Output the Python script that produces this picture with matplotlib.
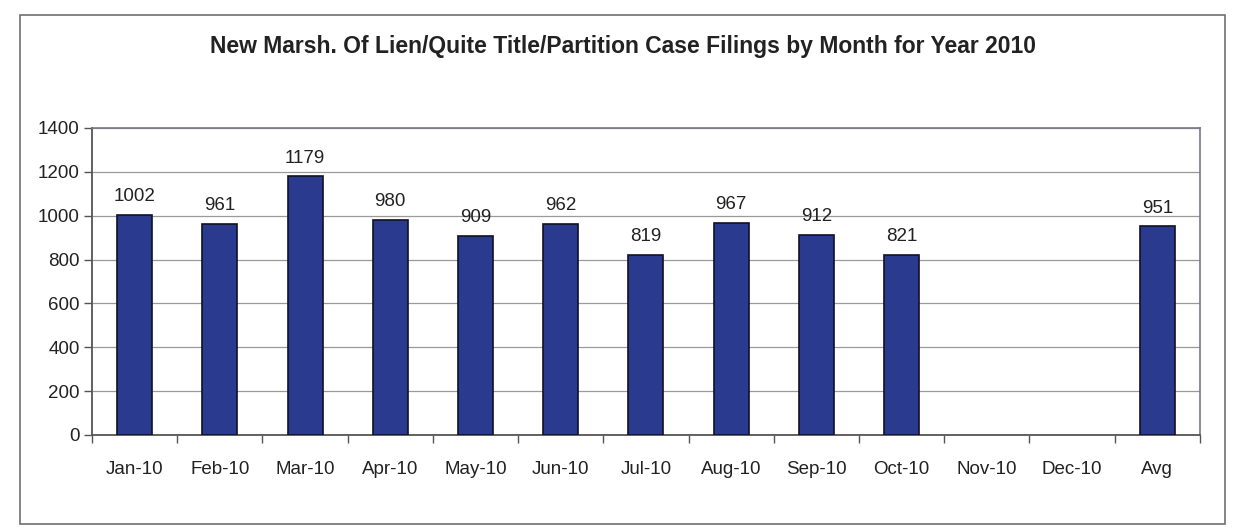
import numpy as np
import matplotlib.pyplot as plt
from matplotlib.patches import Rectangle

plt.rcParams['font.family'] = ['Liberation Sans', 'DejaVu Sans']

months = ['Jan-10', 'Feb-10', 'Mar-10', 'Apr-10', 'May-10', 'Jun-10', 'Jul-10',
          'Aug-10', 'Sep-10', 'Oct-10', 'Nov-10', 'Dec-10', 'Avg']
filings = [1002, 961, 1179, 980, 909, 962, 819, 967, 912, 821, np.nan, np.nan, 951]
y_ticks = [0, 200, 400, 600, 800, 1000, 1200, 1400]

fig = plt.figure(figsize=(12.37, 5.31), dpi=100)
ax = fig.add_axes([0.0744, 0.181, 0.8956, 0.578])

# outer chart frame
fig.patches.append(Rectangle((0.0165, 0.013), 0.974, 0.958, transform=fig.transFigure,
                             fill=False, edgecolor='#707070', linewidth=1.2))

x = np.arange(len(months))
bars = ax.bar(x, filings, width=0.41, color='#2A3B8F', edgecolor='#111122', linewidth=1.2, zorder=3)

for xi, v in zip(x, filings):
    if not np.isnan(v):
        ax.text(xi, v + 45, f'{int(v)}', ha='center', va='bottom', fontsize=13.5, color='#222222')

ax.set_xlim(-0.5, len(months) - 0.5)
ax.set_ylim(0, 1400)
ax.set_yticks(y_ticks)
ax.yaxis.grid(True, color='#9a9a9a', linewidth=0.9, zorder=0)
ax.set_axisbelow(True)

# x ticks sit on category boundaries, labels centred under bars
ax.set_xticks(np.arange(-0.5, len(months), 1.0))
ax.set_xticklabels([])
ax.set_xticks(x, minor=True)
ax.set_xticklabels(months, minor=True)
ax.tick_params(axis='x', which='major', length=6, direction='out', color='#555555', width=1)
ax.tick_params(axis='x', which='minor', length=0, pad=19, labelsize=13.5, labelcolor='#222222')
ax.tick_params(axis='y', length=6, direction='out', color='#555555', width=1, labelsize=13.5,
               labelcolor='#222222', pad=3)

for side in ['left', 'bottom']:
    ax.spines[side].set_color('#555555')
    ax.spines[side].set_linewidth(1.3)
for side in ['top', 'right']:
    ax.spines[side].set_color('#777788')
    ax.spines[side].set_linewidth(1.2)

fig.text(0.504, 0.913, 'New Marsh. Of Lien/Quite Title/Partition Case Filings by Month for Year 2010',
         ha='center', va='center', fontsize=16.5, fontweight='bold', color='#222222')

plt.savefig('out.png', dpi=100)
